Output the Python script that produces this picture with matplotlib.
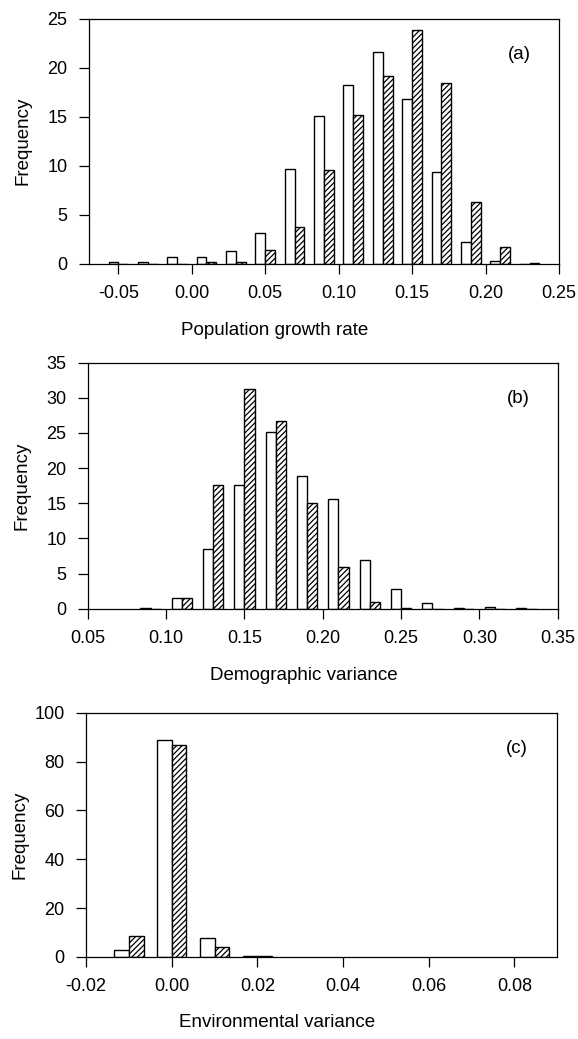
import matplotlib
matplotlib.use("Agg")
import matplotlib.pyplot as plt

plt.rcParams['font.family'] = ['Liberation Sans', 'DejaVu Sans']
plt.rcParams['hatch.linewidth'] = 0.9
plt.rcParams['hatch.color'] = 'black'

# (a) population growth rate: bin centres, open and hatched frequencies
a_bins = [-0.05, -0.03, -0.01, 0.01, 0.03, 0.05, 0.07, 0.09, 0.11, 0.13, 0.15, 0.17, 0.19, 0.21, 0.23]
a_open = [0.15, 0.15, 0.7, 0.7, 1.3, 3.2, 9.7, 15.1, 18.2, 21.6, 16.8, 9.4, 2.2, 0.25, 0.0]
a_hatch = [0.0, 0.0, 0.0, 0.15, 0.15, 1.4, 3.75, 9.6, 15.2, 19.2, 23.8, 18.4, 6.35, 1.7, 0.1]
a_xticks = [-0.05, 0.00, 0.05, 0.10, 0.15, 0.20, 0.25]
a_xlabels = ['-0.05', '0.00', '0.05', '0.10', '0.15', '0.20', '0.25']
a_yticks = [0, 5, 10, 15, 20, 25]

# (b) demographic variance
b_bins = [0.09, 0.11, 0.13, 0.15, 0.17, 0.19, 0.21, 0.23, 0.25, 0.27, 0.29, 0.31, 0.33]
b_open = [0.15, 1.55, 8.55, 17.55, 25.1, 18.9, 15.6, 7.0, 2.8, 0.9, 0.15, 0.3, 0.15]
b_hatch = [0.0, 1.55, 17.6, 31.25, 26.7, 15.1, 6.0, 1.0, 0.15, 0.0, 0.0, 0.0, 0.0]
b_xticks = [0.05, 0.10, 0.15, 0.20, 0.25, 0.30, 0.35]
b_xlabels = ['0.05', '0.10', '0.15', '0.20', '0.25', '0.30', '0.35']
b_yticks = [0, 5, 10, 15, 20, 25, 30, 35]

# (c) environmental variance
c_bins = [-0.01, 0.00, 0.01, 0.02]
c_open = [2.7, 89.0, 7.9, 0.2]
c_hatch = [8.4, 86.6, 4.1, 0.2]
c_xticks = [-0.02, 0.00, 0.02, 0.04, 0.06, 0.08]
c_xlabels = ['-0.02', '0.00', '0.02', '0.04', '0.06', '0.08']
c_yticks = [0, 20, 40, 60, 80, 100]

panels = [
    dict(rect=[0.154, 0.746, 0.813, 0.236], bins=a_bins, op=a_open, ha=a_hatch,
         width=0.0067, xlim=(-0.07, 0.25), ylim=(0, 25), xt=a_xticks, xl=a_xlabels,
         yt=a_yticks, xlabel='Population growth rate', tag='(a)', xlab_x=0.396),
    dict(rect=[0.152, 0.414, 0.813, 0.237], bins=b_bins, op=b_open, ha=b_hatch,
         width=0.0065, xlim=(0.05, 0.35), ylim=(0, 35), xt=b_xticks, xl=b_xlabels,
         yt=b_yticks, xlabel='Demographic variance', tag='(b)', xlab_x=0.46),
    dict(rect=[0.149, 0.079, 0.815, 0.235], bins=c_bins, op=c_open, ha=c_hatch,
         width=0.0034, xlim=(-0.02, 0.09), ylim=(0, 100), xt=c_xticks, xl=c_xlabels,
         yt=c_yticks, xlabel='Environmental variance', tag='(c)', xlab_x=0.405),
]

fig = plt.figure(figsize=(5.78, 10.39), dpi=100)

for p in panels:
    ax = fig.add_axes(p['rect'])
    w = p['width']
    left = [b - w / 2 for b in p['bins']]
    right = [b + w / 2 for b in p['bins']]
    ax.bar(left, p['op'], width=w, facecolor='white', edgecolor='black', linewidth=1.0)
    ax.bar(right, p['ha'], width=w, facecolor='white', edgecolor='black', linewidth=1.0,
           hatch='//////')
    ax.set_xlim(*p['xlim'])
    ax.set_ylim(*p['ylim'])
    ax.set_xticks(p['xt'])
    ax.set_xticklabels(p['xl'])
    ax.set_yticks(p['yt'])
    ax.tick_params(direction='out', length=7.5, width=0.9, pad=8, labelsize=13)
    for s in ax.spines.values():
        s.set_linewidth(0.9)
    ax.set_ylabel('Frequency', fontsize=13.5)
    ax.yaxis.set_label_coords(-0.123, 0.5)
    ax.set_xlabel(p['xlabel'], fontsize=13.5)
    ax.xaxis.set_label_coords(p['xlab_x'], -0.235)
    ax.text(0.915, 0.855, p['tag'], transform=ax.transAxes, fontsize=13.5,
            ha='center', va='center')

fig.savefig('out.png', dpi=100)
